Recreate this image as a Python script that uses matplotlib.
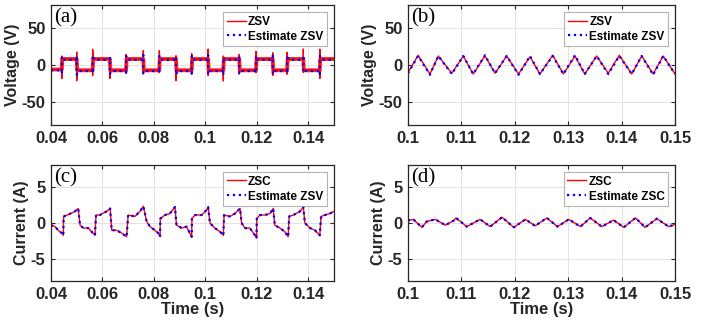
import matplotlib
matplotlib.use('Agg')
import matplotlib.pyplot as plt

plt.rcParams['font.family'] = ['Liberation Sans', 'DejaVu Sans']
plt.rcParams['font.weight'] = 'bold'
plt.rcParams['axes.unicode_minus'] = False

# (a) zero-sequence voltage: switching instants, levels and spikes
switch_t_a = [0.0442, 0.0500, 0.0562, 0.0629, 0.0692, 0.0759, 0.0821, 0.0886, 0.0947,
              0.1011, 0.1070, 0.1132, 0.1197, 0.1262, 0.1318, 0.1381, 0.1445]
level_a = [-6, 8, -7, 8, -7, 8, -7, 8, -7, 8, -7, 8, -7, 8, -7, 8, -7, 8]
spike_hi_a = [12, 17, 21, 10, 14, 19, 19, 12, 15, 21, 12, 14, 18, 16, 17, 21, 21]
spike_lo_a = [-18, -21, -14, -18, -10, -12, -10, -21, -12, -14, -21, -12, -10, -14, -12, -10, -18]
est_level_a = [-7, 7, -8, 7, -8, 7, -8, 7, -8, 7, -8, 7, -8, 7, -8, 7, -8, 7]
est_hi_a = [11, 12, 13, 9, 12, 13, 12, 10, 12, 13, 10, 12, 12, 12, 13, 13, 12]
est_lo_a = [-12, -13, -11, -12, -10, -11, -10, -13, -11, -12, -13, -11, -10, -12, -11, -10, -12]

# (b) zero-sequence voltage, triangle ripple
t_b = [0.1, 0.1019, 0.1041, 0.10568, 0.1082, 0.11036, 0.1122, 0.11442, 0.1163, 0.11848,
       0.1207, 0.12285, 0.1247, 0.1271, 0.1291, 0.13127, 0.1331, 0.13533, 0.1375, 0.13957,
       0.1419, 0.14376, 0.1459, 0.1478, 0.15]
zsv_b = [-10, 13, -12, 12, -11, 12, -12, 12, -11, 12, -12, 11, -12, 13, -12, 12, -12, 12,
         -11, 13, -12, 12, -12, 12, -12]
est_b = [-11, 12, -13, 12, -12, 12, -12, 13, -11, 12, -13, 12, -12, 12, -12, 13, -12, 12,
         -12, 12, -12, 12, -13, 12, -12]

# (c) zero-sequence current
t_c = [0.0400, 0.0416, 0.0428, 0.0442, 0.0448, 0.0449, 0.0470, 0.0493, 0.0506, 0.0513,
       0.0526, 0.0545, 0.0558, 0.0571, 0.0575, 0.0590, 0.0616, 0.0630, 0.0636, 0.0655,
       0.0675, 0.0694, 0.0700, 0.0726, 0.0746, 0.0759, 0.0772, 0.0785, 0.0804, 0.0817,
       0.0824, 0.0825, 0.0843, 0.0862, 0.0882, 0.0888, 0.0908, 0.0927, 0.0947, 0.0948,
       0.0960, 0.0986, 0.1005, 0.1011, 0.1018, 0.1037, 0.1057, 0.1070, 0.1073, 0.1096,
       0.1115, 0.1135, 0.1141, 0.1154, 0.1173, 0.1193, 0.1199, 0.1200, 0.1212, 0.1232,
       0.1251, 0.1264, 0.1270, 0.1290, 0.1309, 0.1322, 0.1326, 0.1342, 0.1368, 0.1381,
       0.1387, 0.1407, 0.1426, 0.1445, 0.1450, 0.1465, 0.1484, 0.1500]
zsc_c = [-0.3, -0.5, -1.0, -1.4, -1.7, 0.9, 1.2, 1.6, 2.0, -0.3,
         -0.7, -0.7, -1.2, -1.7, 1.1, 1.1, 1.6, 2.0, -1.0, -1.0,
         -1.4, -1.9, 1.1, 0.9, 1.6, 2.3, 0.2, -0.5, -1.0, -1.4,
         -1.9, 0.6, 1.1, 1.3, 2.2, -0.3, -0.7, -0.5, -1.9, 0.6,
         1.1, 1.1, 1.8, 2.2, 0.0, -0.7, -1.2, -1.7, 1.1, 0.9,
         1.3, 2.0, 0.0, -0.7, -0.7, -1.7, -2.1, 0.6, 1.1, 1.1,
         1.3, 2.0, -0.3, -0.7, -1.2, -1.9, 0.9, 1.1, 1.6, 2.2,
         0.0, -0.7, -1.0, -1.7, 0.9, 1.1, 1.3, 1.6]
est_c = zsc_c

# (d) zero-sequence current, small ripple
t_d = [0.1000, 0.1010, 0.1026, 0.1035, 0.1051, 0.1070, 0.1085, 0.1090, 0.1110, 0.1135,
       0.1154, 0.1176, 0.1198, 0.1220, 0.1238, 0.1260, 0.1280, 0.1301, 0.1323, 0.1341,
       0.1363, 0.1385, 0.1404, 0.1426, 0.1444, 0.1466, 0.1488, 0.1500]
zsc_d = [0.35, 0.5, -0.6, 0.2, 0.5, -0.3, 0.3, 0.7, -0.5, 0.5, -0.5, 0.8, -0.6, 0.5,
         -0.4, 0.7, -0.5, 0.5, -0.5, 0.7, -0.5, 0.4, -0.6, 0.7, -0.6, 0.6, -0.5, -0.2]
est_d = zsc_d

xticks_left = [0.04, 0.06, 0.08, 0.10, 0.12, 0.14]
xlabels_left = ['0.04', '0.06', '0.08', '0.1', '0.12', '0.14']
xticks_right = [0.10, 0.11, 0.12, 0.13, 0.14, 0.15]
xlabels_right = ['0.1', '0.11', '0.12', '0.13', '0.14', '0.15']
vticks = [-50, 0, 50]
iticks = [-5, 0, 5]


def square_wave(t0, t1, switches, levels, hi, lo, ramp):
    t, v = [t0], [levels[0]]
    for k, s in enumerate(switches):
        t += [s, s, s, s + ramp]
        if levels[k + 1] > levels[k]:
            v += [levels[k], lo[k], hi[k], levels[k + 1]]
        else:
            v += [levels[k], hi[k], lo[k], levels[k + 1]]
    t.append(t1)
    v.append(levels[-1])
    return t, v


def style(ax, xt, xl, yt, lim, ylabel, tag, xlabel=None):
    ax.set_xticks(xt)
    ax.set_xticklabels(xl)
    ax.set_yticks(yt)
    ax.set_xlim(xt[0], 0.15)
    ax.set_ylim(-lim, lim)
    ax.grid(True, color='#e3e3e3', linewidth=0.7)
    ax.set_axisbelow(True)
    ax.tick_params(direction='in', top=True, right=True, length=3, width=0.8,
                   labelsize=12, colors='#262626', labelcolor='#262626', pad=4)
    for lab in ax.get_xticklabels() + ax.get_yticklabels():
        lab.set_fontweight('bold')
    for sp in ax.spines.values():
        sp.set_color('#262626')
        sp.set_linewidth(0.9)
    ax.set_ylabel(ylabel, fontsize=11.5, fontweight='bold', color='#262626', labelpad=1)
    if xlabel:
        ax.set_xlabel(xlabel, fontsize=12, fontweight='bold', color='#262626', labelpad=0)
    ax.text(0.01, 0.975, tag, transform=ax.transAxes, ha='left', va='top',
            fontsize=15, family='Liberation Serif', fontweight='normal')
    leg = ax.legend(loc='upper right', fontsize=8.5, frameon=True, fancybox=False,
                    edgecolor='#a0a0a0', handlelength=1.6, handletextpad=0.2,
                    borderpad=0.3, labelspacing=0.25, borderaxespad=0.6)
    leg.get_frame().set_linewidth(0.8)
    for txt in leg.get_texts():
        txt.set_fontweight('bold')


fig = plt.figure(figsize=(7.06, 3.21), dpi=100)
ax_a = fig.add_axes([0.0722, 0.6106, 0.4008, 0.3738])
ax_b = fig.add_axes([0.5779, 0.6106, 0.3782, 0.3738])
ax_c = fig.add_axes([0.0722, 0.1246, 0.4008, 0.3614])
ax_d = fig.add_axes([0.5779, 0.1246, 0.3782, 0.3614])

ta, va = square_wave(0.04, 0.15, switch_t_a, level_a, spike_hi_a, spike_lo_a, 0.0002)
tb_, vb_ = square_wave(0.04, 0.15, switch_t_a, level_a, level_a, level_a, 0.0002)
te, ve = square_wave(0.04, 0.15, switch_t_a, est_level_a, est_hi_a, est_lo_a, 0.0006)
ax_a.plot(tb_, vb_, color='red', linewidth=2.8, alpha=0.85)
ax_a.plot(ta, va, color='red', linewidth=1.0, label='ZSV')
ax_a.plot(te, ve, color='blue', linestyle=':', linewidth=1.6, label='Estimate ZSV')
style(ax_a, xticks_left, xlabels_left, vticks, 80, 'Voltage (V)', '(a)')

ax_b.plot(t_b, zsv_b, color='red', linewidth=1.0, label='ZSV')
ax_b.plot(t_b, est_b, color='blue', linestyle=':', linewidth=1.6, label='Estimate ZSV')
style(ax_b, xticks_right, xlabels_right, vticks, 80, 'Voltage (V)', '(b)')

ax_c.plot(t_c, zsc_c, color='red', linewidth=1.0, label='ZSC')
ax_c.plot(t_c, est_c, color='blue', linestyle=':', linewidth=1.6, label='Estimate ZSV')
style(ax_c, xticks_left, xlabels_left, iticks, 8, 'Current (A)', '(c)', 'Time (s)')

ax_d.plot(t_d, zsc_d, color='red', linewidth=1.0, label='ZSC')
ax_d.plot(t_d, est_d, color='blue', linestyle=':', linewidth=1.6, label='Estimate ZSC')
style(ax_d, xticks_right, xlabels_right, iticks, 8, 'Current (A)', '(d)', 'Time (s)')

fig.savefig('out.png', dpi=100)
